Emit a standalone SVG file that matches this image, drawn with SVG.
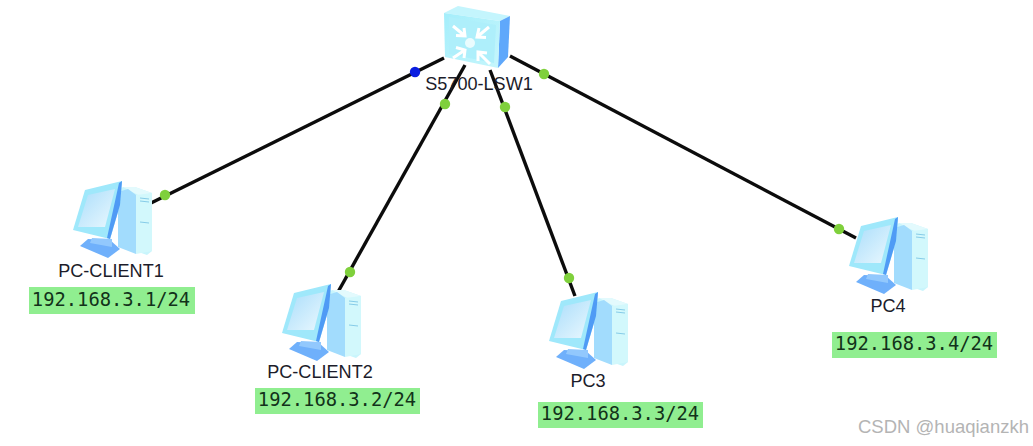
<svg xmlns="http://www.w3.org/2000/svg" width="1033" height="446" viewBox="0 0 1033 446">
<style>
text{font-family:"Liberation Sans",Arial,sans-serif}
.name{font-size:18.1px;fill:#1c1c2a;text-anchor:middle}
.ip{font-family:"DejaVu Sans Mono","Liberation Mono",monospace;font-size:18.8px;fill:#12321a;text-anchor:middle}
.ipbg{fill:#90ee90}
.link{stroke:#0c0c0c;stroke-width:3.4;fill:none}
.up{fill:#7fd03c}
.dn{fill:#0a1de0}
.arr{fill:none;stroke:#fff;stroke-width:3}
</style>
<defs>
<linearGradient id="front" x1="0" y1="0" x2="1" y2="1"><stop offset="0" stop-color="#a4eefb"/><stop offset="1" stop-color="#c6f6fc"/></linearGradient>
<linearGradient id="screen" x1="0" y1="0" x2="1" y2="1"><stop offset="0" stop-color="#a9ddfb"/><stop offset="1" stop-color="#eaf8fe"/></linearGradient>
<g id="pc">
<polygon points="118,191 123,187 135,187 152,193 152,251 147,255 118,245" fill="#c9f5fc"/>
<polygon points="123,187 135,187 152,193 140,196" fill="#e3fafd"/>
<polygon points="118,192 128,189 136,195 136,254 118,247" fill="#a2dcfd"/>
<polygon points="136,195 152,193 152,251 136,254" fill="#d2f8fc"/>
<path d="M140,198l9,1M140,201l9,1M140,222l9,1" stroke="#86cce8" stroke-width="1" fill="none"/>
<polygon points="88,239 110,240 120,249 108,258 80,246" fill="#6fb0fb"/>
<polygon points="92,238 112,239 112,247 90,243" fill="#92c8fd"/>
<polygon points="85,190 122,181 120,205 110,239 73,230" fill="#9fe8fb"/>
<polygon points="119,183 122,181 120,205 110,239 107,238" fill="#4f9bf5"/>
<polygon points="88,195 115,189 105,227 78,227" fill="url(#screen)"/>
</g>
</defs>
<rect width="1033" height="446" fill="#fff"/>
<g id="connectors">
<line class="link" x1="444" y1="58" x2="151" y2="203"/>
<line class="link" x1="465" y1="65" x2="338" y2="292"/>
<line class="link" x1="490" y1="70" x2="575" y2="296"/>
<line class="link" x1="510" y1="56" x2="856" y2="238"/>
<circle class="dn" cx="415" cy="72" r="5.2"/>
<circle class="up" cx="165" cy="195" r="5.2"/>
<circle class="up" cx="445" cy="104" r="5.2"/>
<circle class="up" cx="350" cy="272" r="5.2"/>
<circle class="up" cx="505" cy="107" r="5.2"/>
<circle class="up" cx="569" cy="278" r="5.2"/>
<circle class="up" cx="544" cy="74" r="5.2"/>
<circle class="up" cx="839" cy="229" r="5.2"/>
</g>
<g id="switch">
<polygon points="444,13 458,6 510,16 500,21" fill="#c4f5fd"/>
<polygon points="500,21 510,16 508,57 498,68" fill="#5fa8fb"/>
<polygon points="444,13 500,21 498,68 445,57" fill="url(#front)"/>
<polygon points="449,17 496,25 494,63 449,54" fill="#aeeffb"/>
<circle cx="470" cy="43" r="5" fill="#eafcfe"/>
<g class="arr">
<path d="M453,26L465,36M456,35.500L465,36L464,28"/>
<path d="M489,27L477,37M479,28L477,37L486,37.500"/>
<path d="M453,58L465,50M464,58L465,50L456,47.500"/>
<path d="M490,64L478,52M487,53L478,52L478,61"/>
</g>
<text class="name" x="479" y="90">S5700-LSW1</text>
</g>
<g id="pc-client1">
<use href="#pc"/>
<text class="name" x="111" y="277">PC-CLIENT1</text>
<rect class="ipbg" x="29" y="287" width="166" height="27"/>
<text class="ip" x="111" y="306">192.168.3.1/24</text>
</g>
<g id="pc-client2">
<use href="#pc" transform="translate(209,103)"/>
<text class="name" x="320" y="378">PC-CLIENT2</text>
<rect class="ipbg" x="255" y="388" width="165" height="26"/>
<text class="ip" x="337" y="406">192.168.3.2/24</text>
</g>
<g id="pc3">
<use href="#pc" transform="translate(476,111)"/>
<text class="name" x="588" y="387">PC3</text>
<rect class="ipbg" x="538" y="402" width="165" height="26"/>
<text class="ip" x="620" y="420">192.168.3.3/24</text>
</g>
<g id="pc4">
<use href="#pc" transform="translate(776,36)"/>
<text class="name" x="888" y="312">PC4</text>
<rect class="ipbg" x="832" y="332" width="165" height="26"/>
<text class="ip" x="914" y="350">192.168.3.4/24</text>
</g>
<text x="858" y="433" font-size="18.5" fill="#b4b4b4">CSDN @huaqianzkh</text>
</svg>
